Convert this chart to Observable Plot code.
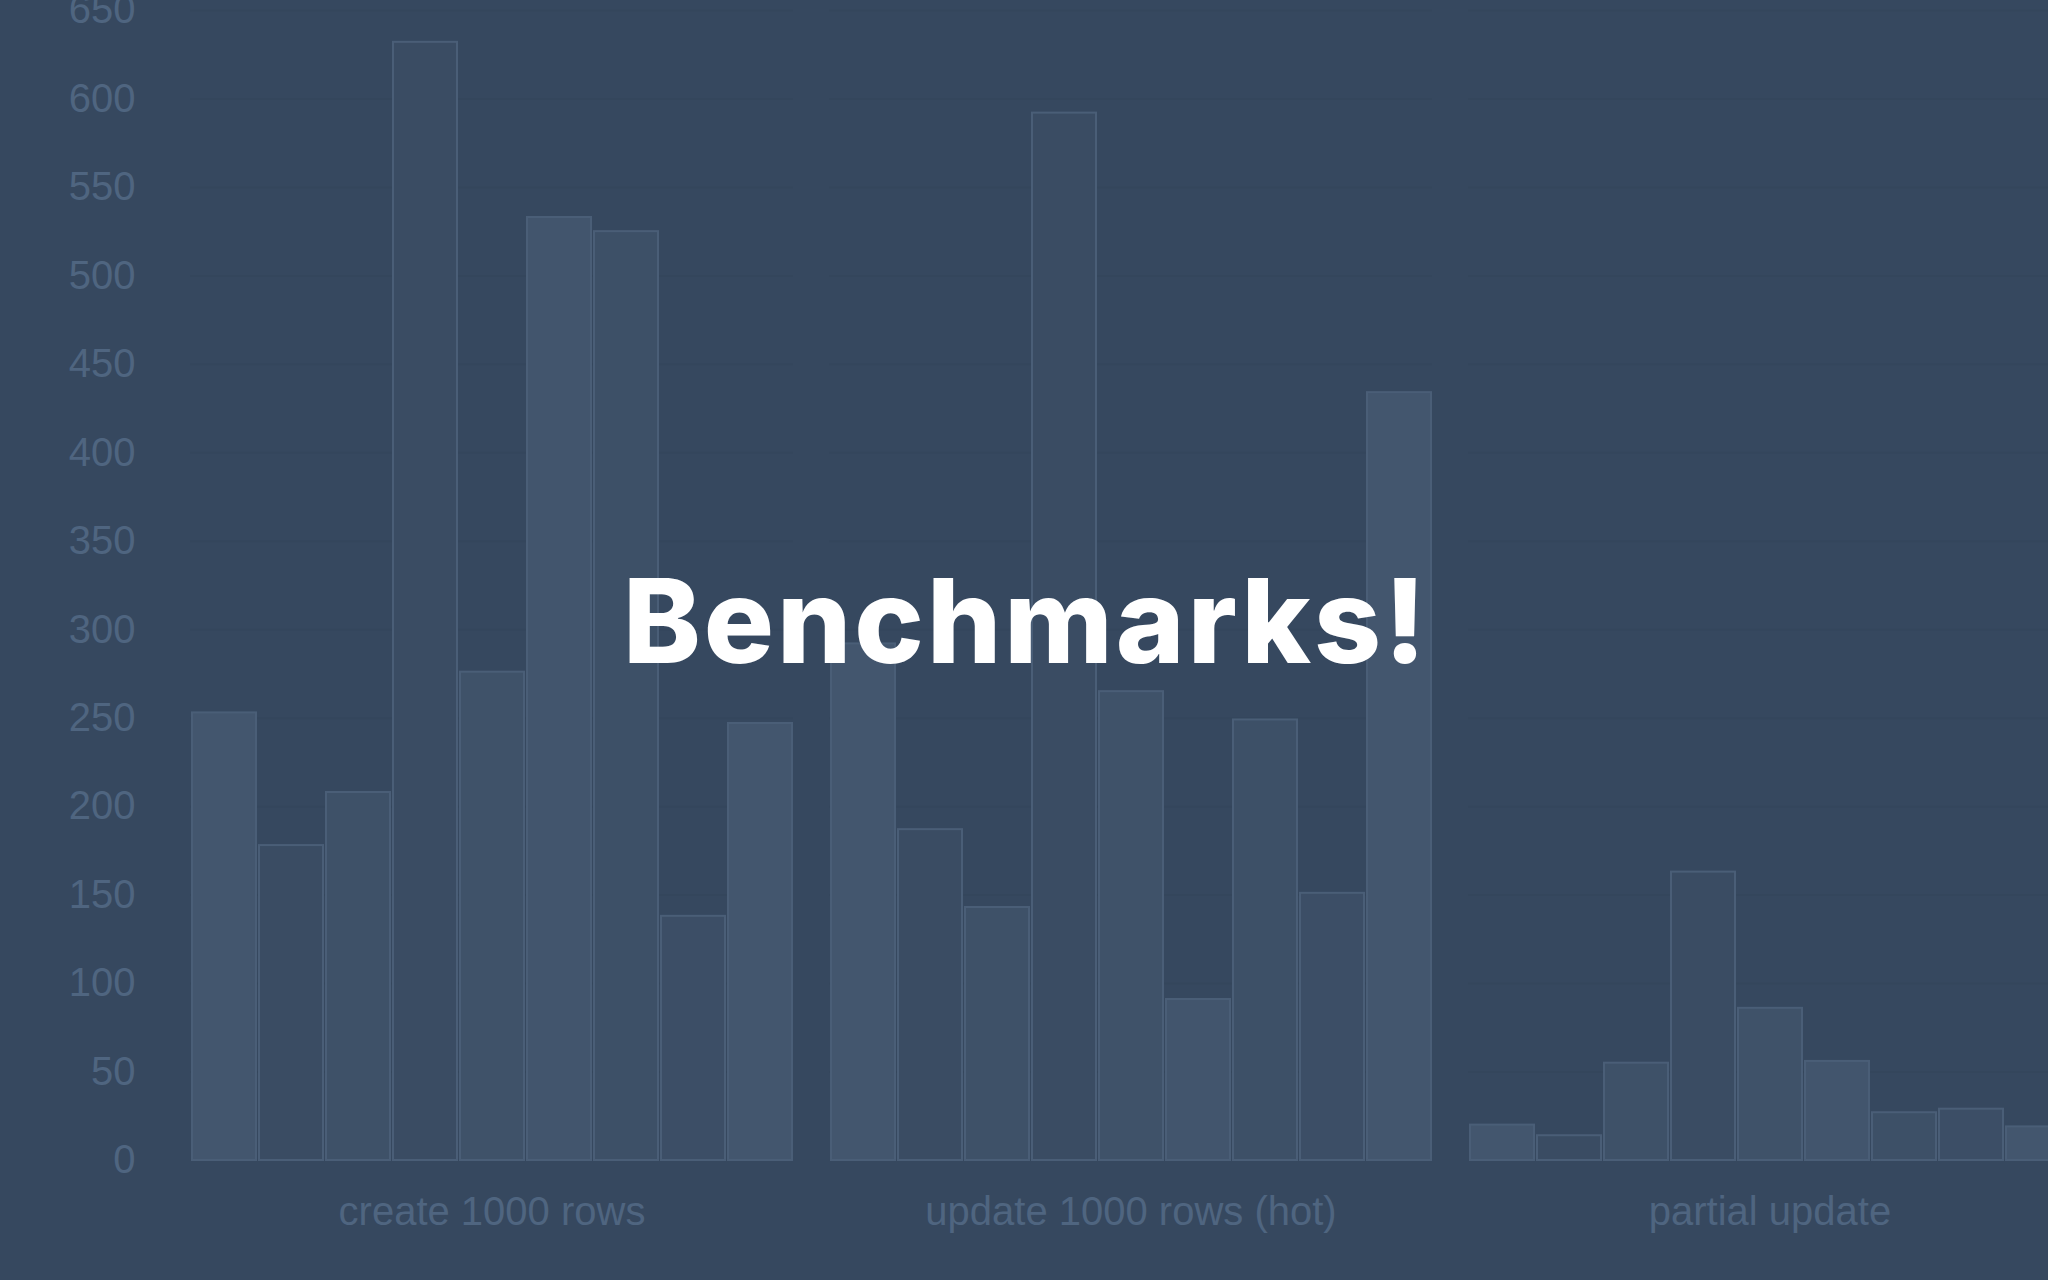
<!DOCTYPE html>
<html>
<head>
<meta charset="utf-8">
<script src="https://cdn.jsdelivr.net/npm/d3@7"></script>
<script src="https://cdn.jsdelivr.net/npm/@observablehq/plot@0.6"></script>
<style>
  html, body { margin: 0; padding: 0; width: 2048px; height: 1280px; overflow: hidden; background: #36485f; }
  #chart { position: absolute; left: 0; top: 0; }
  #chart g[aria-label="fx-axis"] { font-size: 41px; }
  #chart g[aria-label="y-axis"] { font-size: 40px; }
  #title {
    position: absolute; top: 562px; left: 1026px; transform: translateX(-50%);
    font-family: Inter, "Open Sans", sans-serif; font-weight: 800; font-size: 117px;
    letter-spacing: 3px;
    line-height: 1; color: #ffffff; white-space: nowrap;
  }
</style>
</head>
<body>
<div id="chart"></div>
<div id="title">Benchmarks!</div>
<script>
// Categories (benchmark groups)
const groups = ["create 1000 rows", "update 1000 rows (hot)", "partial update"];
// Series (libraries) – names not shown in the picture
const series = ["lib 1", "lib 2", "lib 3", "lib 4", "lib 5", "lib 6", "lib 7", "lib 8", "lib 9"];
// Values (ms) per group, one per series
const createValues  = [253, 178, 208, 632, 276, 533, 525, 138, 247];
const updateValues  = [292, 187, 143, 592, 265, 91, 249, 151, 434];
const partialValues = [20, 14, 55, 163, 86, 56, 27, 29, 19];
// Y tick labels
const yTicks = [0, 50, 100, 150, 200, 250, 300, 350, 400, 450, 500, 550, 600, 650];
// Muted series colours
const seriesColors = ["#43566e", "#3a4c63", "#3e5168", "#3a4c63", "#3f5269", "#42556d", "#3d5067", "#3c4e66", "#43566e"];

const valuesByGroup = [createValues, updateValues, partialValues];
const table = [];
groups.forEach((g, gi) => series.forEach((s, si) => table.push({group: g, series: s, value: valuesByGroup[gi][si]})));

const chart = Plot.plot({
  width: 2110,
  height: 1280,
  marginTop: 10,
  marginBottom: 120,
  marginLeft: 150,
  marginRight: 0,
  style: {
    background: "transparent",
    color: "#4f6580",
    fontFamily: "'Liberation Sans', Arial, sans-serif",
    fontSize: "40px",
    maxWidth: "none",
    overflow: "visible"
  },
  facet: {data: table, x: "group"},
  fx: {domain: groups, paddingInner: 0.057, paddingOuter: 0.062, tickSize: 0, tickPadding: 36, label: null},
  x: {domain: series, paddingInner: 0.05, paddingOuter: 0, axis: null},
  y: {domain: [0, 650], ticks: yTicks, tickSize: 0, tickPadding: 55, label: null},
  color: {domain: series, range: seriesColors},
  marks: [
    Plot.ruleY(yTicks.slice(1), {stroke: "#34465c", strokeWidth: 2}),
    Plot.barY(table, {x: "series", y: "value", fill: "series", stroke: "#4a5e77", strokeWidth: 2})
  ]
});
chart.style.maxWidth = "none";
document.getElementById("chart").appendChild(chart);
</script>
</body>
</html>
